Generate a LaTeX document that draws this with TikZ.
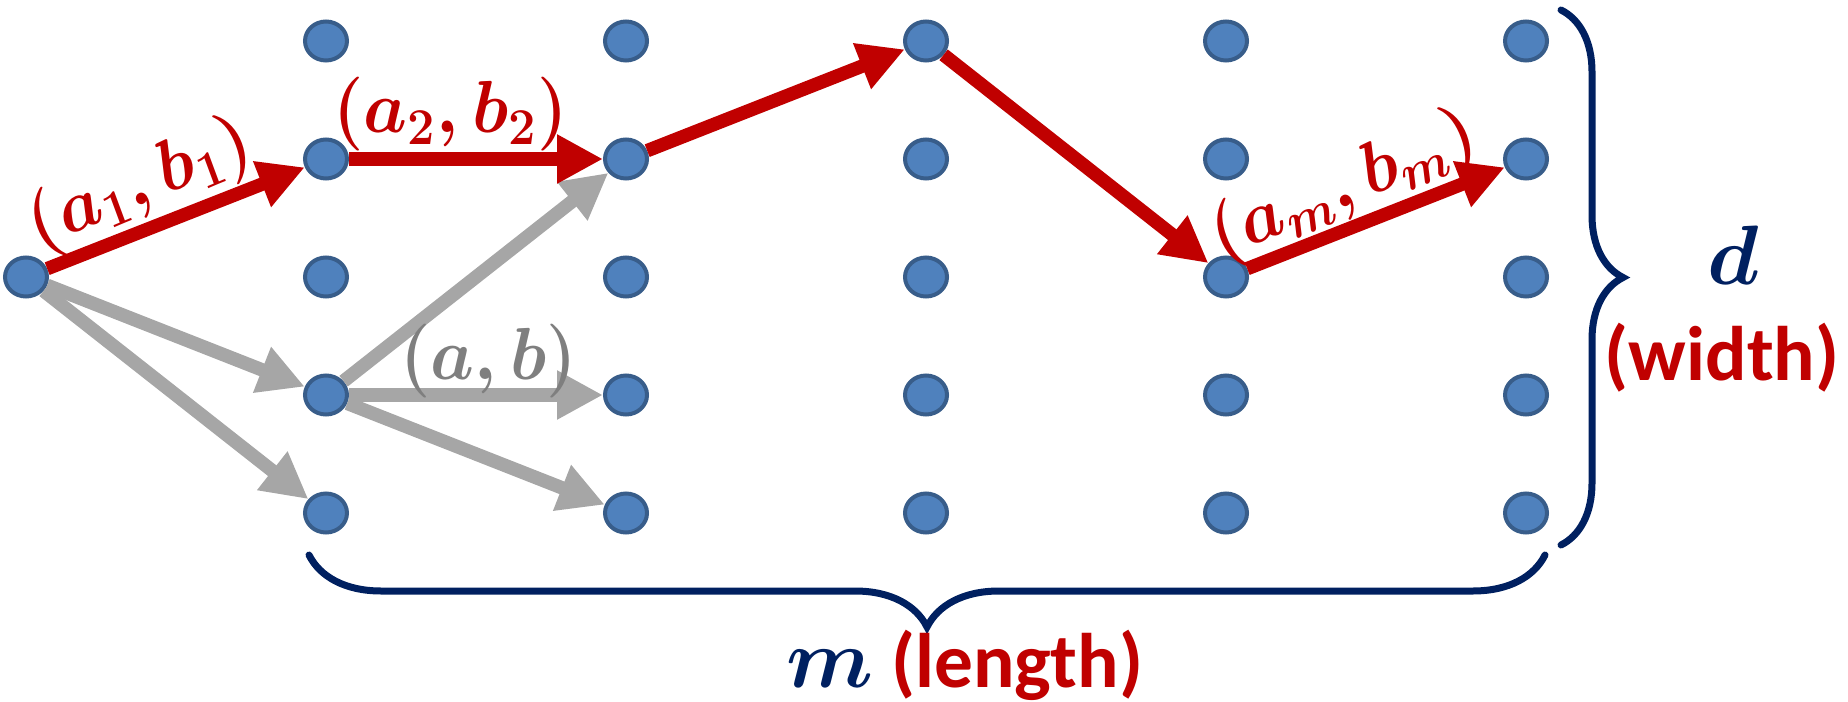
\RequirePackage{fix-cm}
\documentclass[tikz,border=0pt]{standalone}
\usepackage{amsmath}
\usepackage{bm}
\usepackage{fontspec}
\setmainfont{Carlito}
\usetikzlibrary{positioning, arrows.meta, shapes.geometric, decorations.pathreplacing}

\definecolor{walkred}{HTML}{C00000}
\definecolor{movegray}{HTML}{A6A6A6}
\definecolor{labelgray}{HTML}{7F7F7F}
\definecolor{bracenavy}{HTML}{002060}
\definecolor{cellfill}{HTML}{4F81BD}
\definecolor{cellline}{HTML}{385D8A}

\begin{document}
\begin{tikzpicture}[
    >={Triangle[length=4.6mm, width=4.6mm]},
    node distance=1.18cm and 3cm,
    on grid,
    cell/.style={
        draw=cellline,
        fill=cellfill,
        ellipse,
        line width=0.4mm,
        minimum width=4.2mm,
        minimum height=3.9mm,
        inner sep=0pt
    },
    walk/.style={->, color=walkred, line width=1.35mm},
    move/.style={->, color=movegray, line width=1.35mm},
    pairlabel/.style={font=\fontsize{21}{25}\selectfont\boldmath, xscale=.94, inner sep=0pt, anchor=base},
    bracestroke/.style={decorate, draw=bracenavy, line width=0.7mm, line cap=round}
]
\useasboundingbox (0,0) rectangle (18.48,7.01);

% column 0
\node[cell] (v02) at (0.26,4.24) {};
% column 1
\node[cell, right=of v02] (v12) {};
\node[cell, above=of v12] (v11) {};
\node[cell, above=of v11] (v10) {};
\node[cell, below=of v12] (v13) {};
\node[cell, below=of v13] (v14) {};
% column 2
\node[cell, right=of v10] (v20) {};
\node[cell, right=of v11] (v21) {};
\node[cell, right=of v12] (v22) {};
\node[cell, right=of v13] (v23) {};
\node[cell, right=of v14] (v24) {};
% column 3
\node[cell, right=of v20] (v30) {};
\node[cell, right=of v21] (v31) {};
\node[cell, right=of v22] (v32) {};
\node[cell, right=of v23] (v33) {};
\node[cell, right=of v24] (v34) {};
% column 4
\node[cell, right=of v30] (v40) {};
\node[cell, right=of v31] (v41) {};
\node[cell, right=of v32] (v42) {};
\node[cell, right=of v33] (v43) {};
\node[cell, right=of v34] (v44) {};
% column 5
\node[cell, right=of v40] (v50) {};
\node[cell, right=of v41] (v51) {};
\node[cell, right=of v42] (v52) {};
\node[cell, right=of v43] (v53) {};
\node[cell, right=of v44] (v54) {};

% other moves
\path[move]
(v02) edge (v13)
(v02) edge (v14)
(v13) edge (v21)
(v13) edge node[pairlabel, text=labelgray, yshift=1.5mm, pos=.55] {$(a,b)$} (v23)
(v13) edge (v24);

% the walk
\path[walk]
(v02) edge node[pairlabel, rotate=21.5, yshift=2.5mm, pos=.42] {$(a_1,b_1)$} (v11)
(v11) edge node[pairlabel, yshift=2.6mm, pos=.4] {$(a_2,b_2)$} (v21)
(v21) edge (v30)
(v30) edge (v42)
(v42) edge node[pairlabel, rotate=21.5, yshift=2.2mm, pos=.43] {$(a_m,b_m)$} (v51);

% braces
\coordinate (dtop) at (15.61,6.91);
\coordinate (dbot) at (15.61,1.56);
\coordinate (mright) at (15.45,1.46);
\coordinate (mleft) at (3.09,1.46);
\draw[bracestroke, decoration={brace, amplitude=6.2mm}] (dtop) -- (dbot);
\draw[bracestroke, decoration={brace, amplitude=7.2mm}] (mright) -- (mleft);

\node[anchor=base, text=bracenavy, font=\fontsize{24}{28}\selectfont] (dlab) at (17.33,4.16) {$\boldsymbol{d}$};
\node[anchor=base, text=walkred, font=\fontsize{22}{26}\selectfont\bfseries] (wlab) at (17.22,3.21) {(width)};
\node[anchor=base, font=\fontsize{22}{26}\selectfont] (mlab) at (9.65,0.14)
    {\textcolor{bracenavy}{\fontsize{24}{28}\selectfont$\boldsymbol{m}$} \textcolor{walkred}{\bfseries(length)}};

\end{tikzpicture}
\end{document}
